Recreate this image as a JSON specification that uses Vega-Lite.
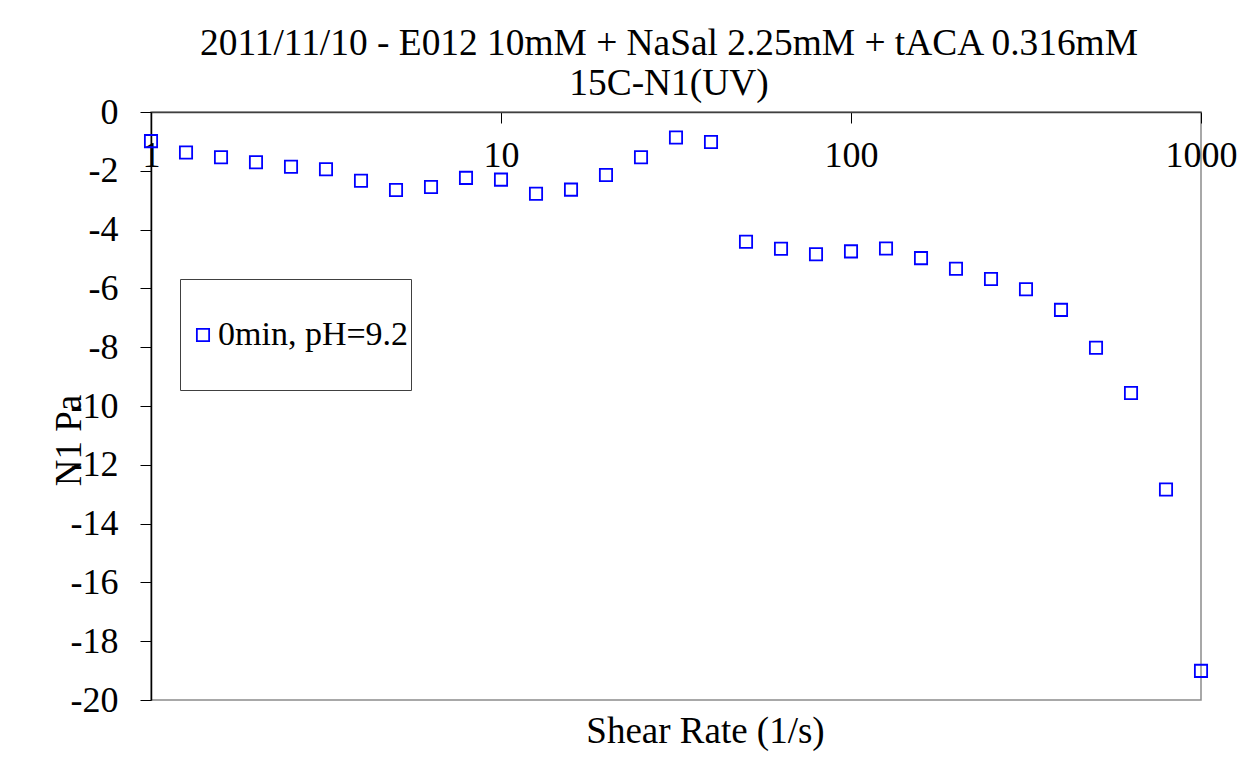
{
  "$schema": "https://vega.github.io/schema/vega-lite/v6.json",
  "width": 1050,
  "height": 588,
  "autosize": {"type": "none"},
  "padding": {"left": 151, "top": 112, "right": 47, "bottom": 73},
  "background": "white",
  "title": {
    "text": ["2011/11/10 - E012 10mM + NaSal 2.25mM + tACA 0.316mM", "15C-N1(UV)"],
    "font": "Liberation Serif",
    "fontSize": 37.4,
    "fontWeight": "normal",
    "color": "black",
    "anchor": "middle",
    "frame": "group",
    "dx": -7,
    "lineHeight": 40,
    "baseline": "bottom",
    "offset": -46
  },
  "data": {
    "values": [
      {"rate": 1, "n1": -0.99, "series": "0min, pH=9.2"},
      {"rate": 1.259, "n1": -1.38, "series": "0min, pH=9.2"},
      {"rate": 1.585, "n1": -1.54, "series": "0min, pH=9.2"},
      {"rate": 1.995, "n1": -1.71, "series": "0min, pH=9.2"},
      {"rate": 2.512, "n1": -1.86, "series": "0min, pH=9.2"},
      {"rate": 3.162, "n1": -1.95, "series": "0min, pH=9.2"},
      {"rate": 3.981, "n1": -2.34, "series": "0min, pH=9.2"},
      {"rate": 5.012, "n1": -2.65, "series": "0min, pH=9.2"},
      {"rate": 6.31, "n1": -2.55, "series": "0min, pH=9.2"},
      {"rate": 7.943, "n1": -2.24, "series": "0min, pH=9.2"},
      {"rate": 10, "n1": -2.30, "series": "0min, pH=9.2"},
      {"rate": 12.59, "n1": -2.78, "series": "0min, pH=9.2"},
      {"rate": 15.85, "n1": -2.64, "series": "0min, pH=9.2"},
      {"rate": 19.95, "n1": -2.14, "series": "0min, pH=9.2"},
      {"rate": 25.12, "n1": -1.54, "series": "0min, pH=9.2"},
      {"rate": 31.62, "n1": -0.87, "series": "0min, pH=9.2"},
      {"rate": 39.81, "n1": -1.02, "series": "0min, pH=9.2"},
      {"rate": 50.12, "n1": -4.41, "series": "0min, pH=9.2"},
      {"rate": 63.1, "n1": -4.65, "series": "0min, pH=9.2"},
      {"rate": 79.43, "n1": -4.84, "series": "0min, pH=9.2"},
      {"rate": 100, "n1": -4.74, "series": "0min, pH=9.2"},
      {"rate": 125.9, "n1": -4.64, "series": "0min, pH=9.2"},
      {"rate": 158.5, "n1": -4.97, "series": "0min, pH=9.2"},
      {"rate": 199.5, "n1": -5.33, "series": "0min, pH=9.2"},
      {"rate": 251.2, "n1": -5.68, "series": "0min, pH=9.2"},
      {"rate": 316.2, "n1": -6.03, "series": "0min, pH=9.2"},
      {"rate": 398.1, "n1": -6.73, "series": "0min, pH=9.2"},
      {"rate": 501.2, "n1": -8.02, "series": "0min, pH=9.2"},
      {"rate": 631, "n1": -9.56, "series": "0min, pH=9.2"},
      {"rate": 794.3, "n1": -12.84, "series": "0min, pH=9.2"},
      {"rate": 1000, "n1": -19.01, "series": "0min, pH=9.2"}
    ]
  },
  "mark": {"type": "point", "shape": "square", "filled": false, "size": 150, "strokeWidth": 1.8, "opacity": 1},
  "encoding": {
    "x": {
      "field": "rate",
      "type": "quantitative",
      "scale": {"type": "log", "domain": [1, 1000], "nice": false},
      "axis": {
        "orient": "bottom",
        "offset": -588,
        "values": [1, 10, 100, 1000],
        "format": "d",
        "grid": false,
        "tickSize": 11,
        "tickColor": "black",
        "tickWidth": 1,
        "domainColor": "#404040",
        "domainWidth": 1.5,
        "labelBaseline": "alphabetic",
        "labelPadding": 43,
        "labelFontSize": 36,
        "labelFont": "Liberation Serif",
        "labelColor": "black",
        "labelOverlap": false,
        "labelFlush": false,
        "labelBound": false,
        "title": "Shear Rate (1/s)",
        "titleX": 554,
        "titleY": 630,
        "titleAlign": "center",
        "titleBaseline": "alphabetic",
        "titleFont": "Liberation Serif",
        "titleFontSize": 37,
        "titleFontWeight": "normal",
        "titleColor": "black"
      }
    },
    "y": {
      "field": "n1",
      "type": "quantitative",
      "scale": {"domain": [-20, 0], "nice": false, "zero": false},
      "axis": {
        "values": [0, -2, -4, -6, -8, -10, -12, -14, -16, -18, -20],
        "labelExpr": "datum.value == 0 ? '0' : '-' + abs(datum.value)",
        "grid": false,
        "tickSize": 11,
        "tickColor": "black",
        "domainColor": "black",
        "domainWidth": 1.5,
        "labelPadding": 22,
        "labelFontSize": 36,
        "labelFont": "Liberation Serif",
        "labelColor": "black",
        "labelFlush": false,
        "labelOverlap": false,
        "title": "N1 Pa",
        "titleX": -71,
        "titleY": 328,
        "titleAngle": -90,
        "titleAlign": "center",
        "titleBaseline": "alphabetic",
        "titleFont": "Liberation Serif",
        "titleFontSize": 37,
        "titleFontWeight": "normal",
        "titleColor": "black"
      }
    },
    "color": {
      "field": "series",
      "type": "nominal",
      "scale": {"range": ["#0000ff"]},
      "legend": {
        "orient": "none",
        "legendX": 29,
        "legendY": 167,
        "title": " ",
        "titleFontSize": 30,
        "titlePadding": 7,
        "padding": 2,
        "strokeColor": "#404040",
        "fillColor": "white",
        "symbolOffset": 4,
        "symbolType": "square",
        "symbolSize": 150,
        "symbolStrokeWidth": 1.8,
        "symbolFillColor": "white",
        "labelFont": "Liberation Serif",
        "labelFontSize": 34,
        "labelColor": "black",
        "labelOffset": -2,
        "labelLimit": 0,
        "labelLineHeight": 37,
        "labelExpr": "[datum.label, '']"
      }
    }
  },
  "config": {
    "font": "Liberation Serif",
    "view": {"stroke": "#8c8c8c", "strokeWidth": 1.5}
  }
}
